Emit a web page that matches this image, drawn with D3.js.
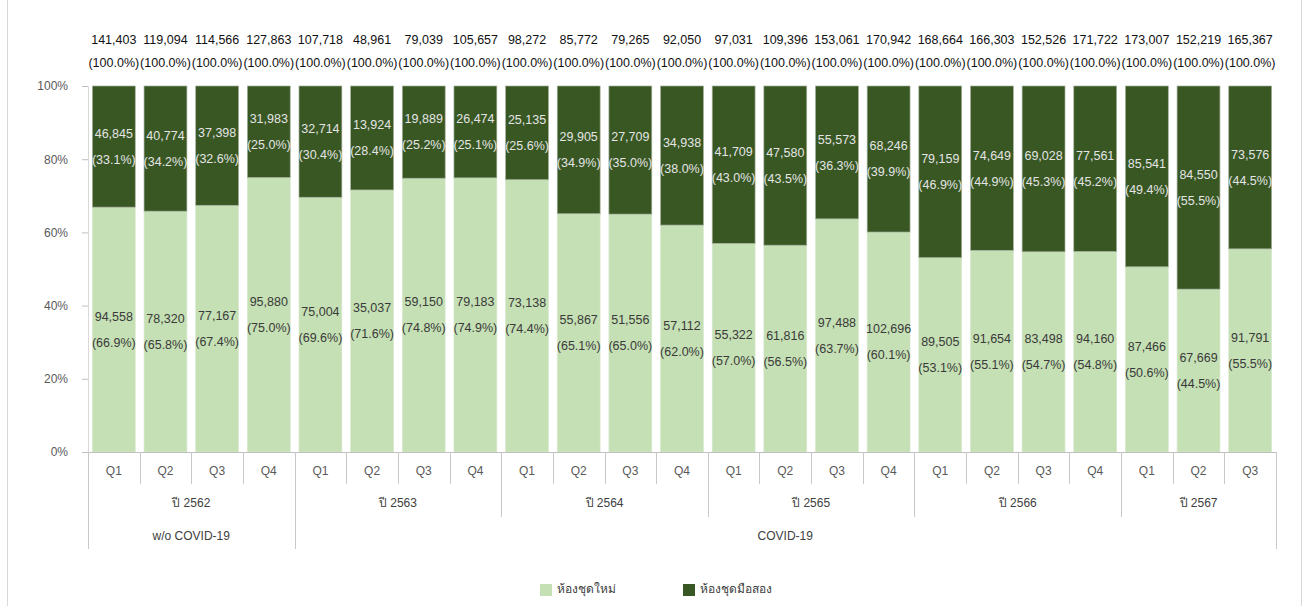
<!DOCTYPE html>
<html>
<head>
<meta charset="utf-8">
<script src="https://cdn.jsdelivr.net/npm/d3@7"></script>
<style>
  html, body { margin: 0; padding: 0; background: #fff; }
  svg text { font-family: "Liberation Sans", Arial, "Noto Sans", sans-serif; }
</style>
</head>
<body>
<svg id="chart" width="1306" height="606"></svg>
<script>
// Condominium transfers by quarter: new units vs. resale units
const quarters = ["Q1","Q2","Q3","Q4","Q1","Q2","Q3","Q4","Q1","Q2","Q3","Q4","Q1","Q2","Q3","Q4","Q1","Q2","Q3","Q4","Q1","Q2","Q3"];
const years    = ["ปี 2562","ปี 2563","ปี 2564","ปี 2565","ปี 2566","ปี 2567"];
const yearSpans = [4,4,4,4,4,3];
const periods  = ["w/o COVID-19","COVID-19"];
const periodSpans = [4,19];

const totals = [141403,119094,114566,127863,107718,48961,79039,105657,98272,85772,79265,92050,97031,109396,153061,170942,168664,166303,152526,171722,173007,152219,165367];
const newUnits = [94558,78320,77167,95880,75004,35037,59150,79183,73138,55867,51556,57112,55322,61816,97488,102696,89505,91654,83498,94160,87466,67669,91791];
const newPct   = [66.9,65.8,67.4,75.0,69.6,71.6,74.8,74.9,74.4,65.1,65.0,62.0,57.0,56.5,63.7,60.1,53.1,55.1,54.7,54.8,50.6,44.5,55.5];
const usedUnits = [46845,40774,37398,31983,32714,13924,19889,26474,25135,29905,27709,34938,41709,47580,55573,68246,79159,74649,69028,77561,85541,84550,73576];
const usedPct   = [33.1,34.2,32.6,25.0,30.4,28.4,25.2,25.1,25.6,34.9,35.0,38.0,43.0,43.5,36.3,39.9,46.9,44.9,45.3,45.2,49.4,55.5,44.5];
const yTicks = [0,20,40,60,80,100];
const seriesNames = ["ห้องชุดใหม่","ห้องชุดมือสอง"];
const colors = ["#c5e0b4","#385723"];

const svg = d3.select("#chart");
const plotLeft = 88, plotRight = 1276, plotTop = 86, plotBottom = 452;
const idx = d3.range(quarters.length);

const x = d3.scaleBand().domain(idx).range([plotLeft, plotRight]).paddingInner(0.17).paddingOuter(0.085);
const y = d3.scaleLinear().domain([0, 100]).range([plotBottom, plotTop]);

const fmt = d3.format(",");
const pf = d3.format(".1f");
const bw = (plotRight - plotLeft) / quarters.length;
const xEdge = i => plotLeft + i * bw;

// outer frame
svg.append("rect").attr("x", 7.5).attr("y", -1).attr("width", 1294).attr("height", 608)
  .attr("fill", "none").attr("stroke", "#d9d9d9");

// y axis
const yAxis = svg.append("g").attr("transform", `translate(${plotLeft},0)`)
  .call(d3.axisLeft(y).tickValues(yTicks).tickFormat(d => d + "%").tickSize(6).tickPadding(14));
yAxis.select(".domain").attr("stroke", "#d9d9d9");
yAxis.selectAll(".tick line").attr("stroke", "#bfbfbf");
yAxis.selectAll(".tick text").attr("fill", "#595959").style("font-size", "12px");

// stacked bars
const rows = idx.map(i => ({ i, n: newPct[i], u: usedPct[i] }));
const stack = d3.stack().keys(["n","u"])(rows);

stack.forEach((layer, k) => {
  svg.append("g").selectAll("rect").data(layer).join("rect")
    .attr("x", d => x(d.data.i))
    .attr("width", x.bandwidth())
    .attr("y", d => y(k === 1 ? 100 : d[1]))
    .attr("height", d => y(d[0]) - y(k === 1 ? 100 : d[1]))
    .attr("fill", colors[k])
    .attr("stroke", k === 0 ? "#d9e8cf" : "#a4b09b")
    .attr("stroke-width", 0.7);
});

// segment labels
const segLabels = svg.append("g").style("font-size", "12.5px").attr("text-anchor", "middle");
idx.forEach(i => {
  const cx = x(i) + x.bandwidth() / 2;
  const cNew = (y(0) + y(newPct[i])) / 2;
  const cUsed = (y(newPct[i]) + y(100)) / 2;
  segLabels.append("text").attr("x", cx).attr("y", cNew - 13).attr("dy", "0.35em")
    .attr("fill", "#3a3a3a").text(fmt(newUnits[i]));
  segLabels.append("text").attr("x", cx).attr("y", cNew + 13).attr("dy", "0.35em")
    .attr("fill", "#3a3a3a").text("(" + pf(newPct[i]) + "%)");
  segLabels.append("text").attr("x", cx).attr("y", cUsed - 13).attr("dy", "0.35em")
    .attr("fill", "#e4e4e4").text(fmt(usedUnits[i]));
  segLabels.append("text").attr("x", cx).attr("y", cUsed + 13).attr("dy", "0.35em")
    .attr("fill", "#e4e4e4").text("(" + pf(usedPct[i]) + "%)");
});

// totals above bars
const totLabels = svg.append("g").style("font-size", "12.5px").attr("text-anchor", "middle").attr("fill", "#111");
idx.forEach(i => {
  const cx = x(i) + x.bandwidth() / 2;
  totLabels.append("text").attr("x", cx).attr("y", 40).attr("dy", "0.35em").text(fmt(totals[i]));
  totLabels.append("text").attr("x", cx).attr("y", 63).attr("dy", "0.35em").text("(100.0%)");
});

// category axis (multi-level)
const cat = svg.append("g");
cat.append("line").attr("x1", 82).attr("x2", plotRight).attr("y1", plotBottom + 0.5).attr("y2", plotBottom + 0.5)
  .attr("stroke", "#bfbfbf");

const lineColor = "#c8c8c8";
const qBottom = 484, yBottom = 517, pBottom = 549;
const vline = (b, y1, y2) => cat.append("line")
  .attr("x1", Math.round(xEdge(b)) + 0.5).attr("x2", Math.round(xEdge(b)) + 0.5)
  .attr("y1", y1).attr("y2", y2).attr("stroke", lineColor);

// quarter level
idx.forEach(i => {
  cat.append("text").attr("x", xEdge(i) + bw / 2).attr("y", 471).attr("dy", "0.35em")
    .attr("text-anchor", "middle").attr("fill", "#595959").style("font-size", "12px").text(quarters[i]);
});
d3.range(quarters.length + 1).forEach(i => vline(i, plotBottom, qBottom));

// year level
let start = 0;
years.forEach((label, j) => {
  const end = start + yearSpans[j];
  cat.append("text").attr("x", (xEdge(start) + xEdge(end)) / 2).attr("y", 503).attr("dy", "0.35em")
    .attr("text-anchor", "middle").attr("fill", "#404040").style("font-size", "12px").text(label);
  vline(start, qBottom, yBottom);
  vline(end, qBottom, yBottom);
  start = end;
});

// period level
start = 0;
periods.forEach((label, j) => {
  const end = start + periodSpans[j];
  cat.append("text").attr("x", (xEdge(start) + xEdge(end)) / 2).attr("y", 536).attr("dy", "0.35em")
    .attr("text-anchor", "middle").attr("fill", "#404040").style("font-size", "12px").text(label);
  vline(start, yBottom, pBottom);
  vline(end, yBottom, pBottom);
  start = end;
});

// legend
const legend = svg.append("g").style("font-size", "12px");
const legendX = [540, 683];
seriesNames.forEach((name, k) => {
  legend.append("rect").attr("x", legendX[k]).attr("y", 584).attr("width", 12).attr("height", 12)
    .attr("fill", colors[k]);
  legend.append("text").attr("x", legendX[k] + 17).attr("y", 589).attr("dy", "0.35em")
    .attr("fill", "#404040").text(name);
});
</script>
</body>
</html>
